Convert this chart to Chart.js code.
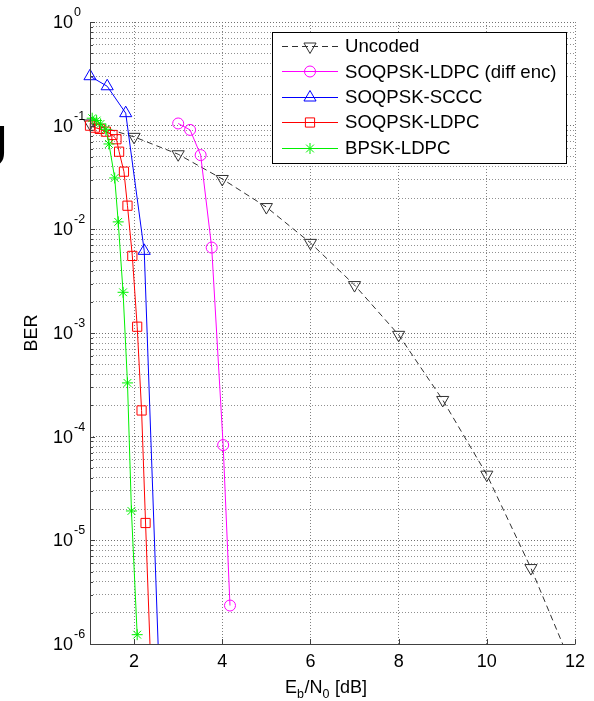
<!DOCTYPE html>
<html>
<head>
<meta charset="utf-8">
<script src="https://cdn.jsdelivr.net/npm/chart.js@4.4.1/dist/chart.umd.min.js"></script>
<style>
html,body{margin:0;padding:0;background:#fff;}
#wrap{width:594px;height:701px;position:relative;}
</style>
</head>
<body>
<div id="wrap"><canvas id="c" width="594" height="701"></canvas></div>
<script>
// ---- data ----
const seriesNames = ['Uncoded', 'SOQPSK-LDPC (diff enc)', 'SOQPSK-SCCC', 'SOQPSK-LDPC', 'BPSK-LDPC'];

const uncodedX   = [1, 2, 3, 4, 5, 6, 7, 8, 9, 10, 11, 12];
const uncodedBER = [0.105, 0.078, 0.053, 0.0306, 0.0164, 0.0074, 0.0029, 9.6e-4, 2.26e-4, 4.3e-5, 5.4e-6, 5.2e-7];

const diffEncX   = [3.0, 3.27, 3.51, 3.76, 4.02, 4.175];
const diffEncBER = [0.105, 0.091, 0.052, 0.00667, 8.3e-5, 2.35e-6];

const scccX   = [1.0, 1.39, 1.81, 2.23, 2.545];
const scccBER = [0.30, 0.24, 0.132, 0.0062, 1e-6];
const scccMarked = [1, 1, 1, 1, 0];

const ldpcX   = [1.0, 1.11, 1.22, 1.36, 1.51, 1.6, 1.66, 1.77, 1.85, 1.96, 2.07, 2.17, 2.26, 2.36];
const ldpcBER = [0.100, 0.0957, 0.093, 0.0875, 0.0813, 0.074, 0.0561, 0.036, 0.0169, 0.00554, 1.15e-3, 1.79e-4, 1.47e-5, 1e-6];
const ldpcMarked = [1,1,1,1,1,1,1,1,1,1,1,1,1,0];

const bpskX   = [1.05, 1.15, 1.24, 1.36, 1.43, 1.56, 1.64, 1.75, 1.85, 1.94, 2.07];
const bpskBER = [0.118, 0.112, 0.104, 0.0923, 0.0666, 0.0313, 0.0118, 0.00247, 3.3e-4, 1.92e-5, 1.23e-6];

const xTickValues = [2, 4, 6, 8, 10, 12];
const xTickLabels = ['2', '4', '6', '8', '10', '12'];
const yDecadeExps = [0, -1, -2, -3, -4, -5, -6];
const yTickBase = '10';

const xTitleParts = [['E', 'n'], ['b', 's'], ['/N', 'n'], ['0', 's'], [' [dB]', 'n']];
const yTitle = 'BER';
const artifactText = 'J';

// ---- helpers ----
const FONT = '"Liberation Sans", Arial, Helvetica, sans-serif';
function pts(xs, ys) { return xs.map((x, i) => ({ x: x, y: ys[i] })); }

const styles = [
  { color: '#303030', shape: 'triangle', rot: 180, r: 7, dash: [6, 4] },
  { color: '#ff00ff', shape: 'circle', rot: 0, r: 5.5, dash: [] },
  { color: '#0000ff', shape: 'triangle', rot: 0, r: 7, dash: [] },
  { color: '#ff0000', shape: 'rect', rot: 0, r: 6.5, dash: [] },
  { color: '#00f000', shape: 'star', rot: 0, r: 5.5, dash: [] }
];

const rawData = [
  [uncodedX, uncodedBER, null],
  [diffEncX, diffEncBER, null],
  [scccX, scccBER, scccMarked],
  [ldpcX, ldpcBER, ldpcMarked],
  [bpskX, bpskBER, null]
];

const datasets = rawData.map((d, i) => {
  const s = styles[i];
  return {
    label: seriesNames[i],
    data: pts(d[0], d[1]),
    borderColor: s.color,
    borderWidth: 1,
    borderDash: s.dash,
    pointStyle: s.shape,
    pointRotation: s.rot,
    pointRadius: d[2] ? d[2].map(m => m ? s.r : 0) : s.r,
    pointBorderColor: s.color,
    pointBackgroundColor: 'rgba(0,0,0,0)',
    pointBorderWidth: 1,
    tension: 0,
    fill: false,
    order: 5 - i,
    clip: { left: 12, top: 12, right: 12, bottom: 0 }
  };
});

// all log grid values 1..9 x 10^k
const yGridValues = [];
for (let e = -6; e <= 0; e++) {
  for (let m = 1; m <= 9; m++) {
    const v = m * Math.pow(10, e);
    if (v <= 1.0000001) yGridValues.push(v);
  }
}
function isMajor(v) { const l = Math.log10(v); return Math.abs(l - Math.round(l)) < 1e-9; }

const decor = {
  id: 'decor',
  afterDraw(chart) {
    const ctx = chart.ctx;
    const a = chart.chartArea;
    const xs = chart.scales.x, ys = chart.scales.y;
    ctx.save();
    // axes lines
    ctx.strokeStyle = '#404040';
    ctx.lineWidth = 1;
    ctx.setLineDash([]);
    ctx.beginPath();
    ctx.moveTo(Math.round(a.left) + 0.5, a.top);
    ctx.lineTo(Math.round(a.left) + 0.5, a.bottom);
    ctx.moveTo(a.left, Math.round(a.bottom) + 0.5);
    ctx.lineTo(a.right + 0.5, Math.round(a.bottom) + 0.5);
    ctx.stroke();
    // inward ticks
    ctx.beginPath();
    xTickValues.forEach(v => {
      const px = Math.round(xs.getPixelForValue(v)) + 0.5;
      ctx.moveTo(px, a.bottom);
      ctx.lineTo(px, a.bottom - 5);
    });
    yGridValues.forEach(v => {
      const py = Math.round(ys.getPixelForValue(v)) + 0.5;
      ctx.moveTo(a.left, py);
      ctx.lineTo(a.left + (isMajor(v) ? 5 : 3), py);
    });
    ctx.stroke();

    // x tick labels
    ctx.fillStyle = '#000';
    ctx.font = '18px ' + FONT;
    ctx.textAlign = 'center';
    ctx.textBaseline = 'middle';
    xTickValues.forEach((v, i) => {
      ctx.fillText(xTickLabels[i], xs.getPixelForValue(v), a.bottom + 18);
    });
    // y tick labels 10^e
    yDecadeExps.forEach(e => {
      const py = ys.getPixelForValue(Math.pow(10, e));
      ctx.font = '18px ' + FONT;
      ctx.textAlign = 'right';
      ctx.textBaseline = 'middle';
      ctx.fillText(yTickBase, 73, py + 1);
      ctx.font = '12.5px ' + FONT;
      ctx.textAlign = 'left';
      ctx.textBaseline = 'alphabetic';
      ctx.fillText(String(e), 74, py - 6);
    });
    // x title with subscripts
    let x = 285;
    const base = 693;
    ctx.textAlign = 'left';
    ctx.textBaseline = 'alphabetic';
    xTitleParts.forEach(p => {
      const sub = p[1] === 's';
      ctx.font = (sub ? '12.5px ' : '18px ') + FONT;
      ctx.fillText(p[0], x, sub ? base + 5 : base);
      x += ctx.measureText(p[0]).width + (sub ? 0.5 : 0);
    });
    // y title
    ctx.save();
    ctx.translate(32, 333);
    ctx.rotate(-Math.PI / 2);
    ctx.font = '18px ' + FONT;
    ctx.textAlign = 'center';
    ctx.textBaseline = 'middle';
    ctx.fillText(yTitle, 0, 0);
    ctx.restore();

    // stray glyph at left edge (cropped from source figure)
    ctx.font = 'bold 58px ' + FONT;
    ctx.textAlign = 'right';
    ctx.textBaseline = 'alphabetic';
    ctx.fillText(artifactText, 8, 166);

    // legend
    const L = { x: 272, y: 32, w: 294, h: 131 };
    ctx.fillStyle = '#fff';
    ctx.fillRect(L.x, L.y, L.w, L.h);
    ctx.strokeStyle = '#000';
    ctx.lineWidth = 1;
    ctx.setLineDash([]);
    ctx.strokeRect(L.x + 0.5, L.y + 0.5, L.w, L.h);
    ctx.save();
    ctx.beginPath();
    ctx.rect(L.x + 1, L.y + 1, L.w - 2, L.h - 2);
    ctx.clip();
    seriesNames.forEach((name, i) => {
      const s = styles[i];
      const cy = 46 + i * 25.4;
      ctx.strokeStyle = s.color;
      ctx.lineWidth = 1;
      ctx.setLineDash(s.dash);
      ctx.beginPath();
      ctx.moveTo(282, Math.round(cy) + 0.5);
      ctx.lineTo(338, Math.round(cy) + 0.5);
      ctx.stroke();
      ctx.setLineDash([]);
      ctx.strokeStyle = s.color;
      ctx.fillStyle = 'rgba(0,0,0,0)';
      Chart.helpers.drawPoint(ctx, {
        pointStyle: s.shape, rotation: s.rot, radius: s.r, borderWidth: 1
      }, 310, Math.round(cy) + 0.5);
      ctx.fillStyle = '#000';
      ctx.font = '18.6px ' + FONT;
      ctx.textAlign = 'left';
      ctx.textBaseline = 'middle';
      ctx.fillText(name, 345, cy + 1);
    });
    ctx.restore();
    ctx.restore();
  }
};

new Chart(document.getElementById('c'), {
  type: 'line',
  data: { datasets: datasets },
  options: {
    responsive: false,
    animation: false,
    devicePixelRatio: 1,
    layout: { padding: { left: 0, top: 22, right: 19, bottom: 0 } },
    plugins: { legend: { display: false }, tooltip: { enabled: false }, title: { display: false } },
    scales: {
      x: {
        type: 'linear',
        min: 1, max: 12,
        afterBuildTicks: s => { s.ticks = xTickValues.map(v => ({ value: v })); },
        afterFit: s => { s.height = 57; },
        ticks: { display: false },
        grid: { color: '#808080', lineWidth: 1, drawTicks: false },
        border: { display: false, dash: [1, 2] }
      },
      y: {
        type: 'logarithmic',
        min: 1e-6, max: 1,
        afterBuildTicks: s => { s.ticks = yGridValues.map(v => ({ value: v })); },
        afterFit: s => { s.width = 90; },
        ticks: { display: false },
        grid: {
          color: ctx => (ctx.tick && isMajor(ctx.tick.value)) ? '#707070' : '#909090',
          lineWidth: 1, drawTicks: false
        },
        border: { display: false, dash: [1, 2] }
      }
    }
  },
  plugins: [decor]
});
</script>
</body>
</html>
